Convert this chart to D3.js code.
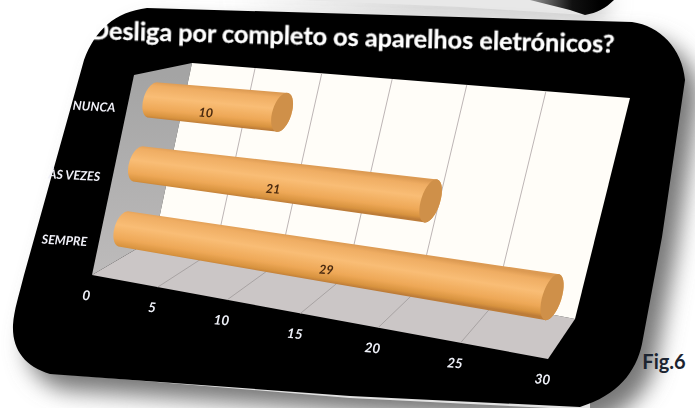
<!DOCTYPE html>
<html><head><meta charset="utf-8">
<script src="https://cdnjs.cloudflare.com/ajax/libs/d3/7.8.5/d3.min.js"></script>
<style>html,body{margin:0;padding:0;background:#fff}svg{display:block}</style>
</head><body><svg id="c" width="695" height="408"></svg>
<script>
const title = "Desliga por completo os aparelhos eletrónicos?";
const categories = ["NUNCA", "ÀS VEZES", "SEMPRE"];
const values = [10, 21, 29];
const xTicks = [0, 5, 10, 15, 20, 25, 30];
const figLabel = "Fig.6";

// Projective map of the unit square onto a quad (u0v0, u1v0, u1v1, u0v1)
function quad(a, b, c, d) {
  const dx1 = b[0]-c[0], dx2 = d[0]-c[0], sx = a[0]-b[0]+c[0]-d[0];
  const dy1 = b[1]-c[1], dy2 = d[1]-c[1], sy = a[1]-b[1]+c[1]-d[1];
  const den = dx1*dy2-dx2*dy1;
  const g = (sx*dy2-dx2*sy)/den, h = (dx1*sy-sx*dy1)/den;
  const A = b[0]-a[0]+g*b[0], B = d[0]-a[0]+h*d[0], D = b[1]-a[1]+g*b[1], E = d[1]-a[1]+h*d[1];
  return (u, v) => { const w = g*u+h*v+1; return [(A*u+B*v+a[0])/w, (D*u+E*v+a[1])/w]; };
}
const x = d3.scaleLinear().domain([0, 30]).range([0, 1]);
const y = d3.scalePoint().domain(categories).range([0, 1]);
const radius = d3.scaleLinear().domain([0, 30]).range([17.5, 23]);
// foreshortening along the value axis of the box faces
const depth = 0.842;
const t = d => { const u = x(d); return u*depth/(u*depth + 1 - u); };
const lerp = (a, b, k) => [a[0]+(b[0]-a[0])*k, a[1]+(b[1]-a[1])*k];

const wTL = [192,63], wTR = [630,98], wBR = [575,319], wBL = [155,238], fFL = [92,275], fFR = [548,359];
const barPlane = quad([153,100],[595,142],[570,300],[124,229]);
const poly = pts => "M" + pts.map(p => p.map(n => n.toFixed(1)).join(",")).join("L") + "Z";

const svg = d3.select("#c");
const defs = svg.append("defs");
const blur = (id, s) => defs.append("filter").attr("id", id)
  .attr("x", "-20%").attr("y", "-20%").attr("width", "140%").attr("height", "140%")
  .append("feGaussianBlur").attr("stdDeviation", s);
blur("shadow", 11); blur("soft", 0.6);

const grad = (id, x1, y1, x2, y2, stops) => {
  const g = defs.append("linearGradient").attr("id", id).attr("gradientUnits", "userSpaceOnUse")
    .attr("x1", x1).attr("y1", y1).attr("x2", x2).attr("y2", y2);
  stops.forEach(s => g.append("stop").attr("offset", s[0]).attr("stop-color", s[1]));
};

const panel = "M147,8 L632,22 C660,26 682,48 685,80 L662,237 L642,344 C636,372 618,395 580,407 L350,396 L50,374 C25,366 12,350 13,325 C14,310 19,295 24,275 L84,60 C95,30 115,12 147,8 Z";

svg.append("rect").attr("width", 695).attr("height", 408).attr("fill", "#fff");

// neighbouring picture sliver at the top
svg.append("path").attr("d", "M230,0 L612,0 L600,18 L420,14 Z").attr("fill", "#b4b4b4").attr("filter", "url(#shadow)");
svg.append("path").attr("d", "M300,0 L540,0 L585,15 L460,7 Z").attr("fill", "#e8e8e8");
grad("slv", 530, 0, 600, 0, [[0, "#999"], [0.6, "#111"], [1, "#000"]]);
svg.append("path").attr("d", "M530,0 L614,0 C606,8 597,13 585,15 L570,10 Z").attr("fill", "url(#slv)");

// shadow, bottom sliver and black panel
svg.append("path").attr("d", panel).attr("fill", "#777").attr("transform", "translate(14,16)").attr("filter", "url(#shadow)");
svg.append("path").attr("d", "M48,373 L350,398 L590,410 L590,400 L350,390 Z").attr("fill", "#e2e2e2");
svg.append("path").attr("d", panel).attr("fill", "#000");

const chart = svg.append("g").attr("filter", "url(#soft)");

// left wall, floor, back wall
grad("leftG", 0, 75, 0, 275, [[0, "#a4a4a4"], [1, "#bdbbbb"]]);
chart.append("path").attr("d", poly([[134,75],wTL,wBL,fFL])).attr("fill", "url(#leftG)");
chart.append("path").attr("d", poly([wBL,wBR,fFR,fFL])).attr("fill", "#cbc6c6");
chart.append("path").attr("d", poly([wTL,wTR,wBR,wBL])).attr("fill", "#fffdf8");

// grid lines from the tick values
const inner = xTicks.slice(1, -1);
chart.selectAll(".wg").data(inner).join("path").attr("class", "wg")
  .attr("d", d => d3.line()([lerp(wTL,wTR,t(d)), lerp(wBL,wBR,t(d))]))
  .attr("stroke", "#bdb5b5").attr("stroke-width", 1).attr("fill", "none");
chart.selectAll(".fg").data(inner).join("path").attr("class", "fg")
  .attr("d", d => d3.line()([lerp(wBL,wBR,t(d)), lerp(fFL,fFR,t(d))]))
  .attr("stroke", "#a8a3a3").attr("stroke-width", 1).attr("fill", "none");

// cylinders
categories.forEach((c, i) => {
  const v = values[i], rowV = y(c);
  const p0 = barPlane(x(0), rowV), p1 = barPlane(x(v), rowV);
  const r0 = radius(0), r1 = radius(v), k = 0.32, capW = 9.5;
  const t0 = [p0[0]+k*r0, p0[1]-r0], b0 = [p0[0]-k*r0, p0[1]+r0];
  const t1 = [p1[0]+k*r1, p1[1]-r1], b1 = [p1[0]-k*r1, p1[1]+r1];
  const ang = Math.atan2(1, -k) * 180 / Math.PI;
  const L0 = Math.hypot(k*r0, r0), L1 = Math.hypot(k*r1, r1);
  const mid = [(p0[0]+p1[0])/2, (p0[1]+p1[1])/2], rm = (r0+r1)/2;
  // shading runs across the axis of the cylinder
  const ax = p1[0]-p0[0], ay = p1[1]-p0[1], al = Math.hypot(ax, ay);
  const nx = -ay/al, ny = ax/al;
  const hh = Math.abs(-k*rm*nx + rm*ny);
  const id = "bar" + i;
  grad(id, mid[0]-nx*hh, mid[1]-ny*hh, mid[0]+nx*hh, mid[1]+ny*hh,
    [[0, "#dc9a52"], [0.12, "#efad63"], [0.42, "#f9bd75"], [0.75, "#eea857"], [0.92, "#d8933f"], [1, "#bd7c38"]]);
  chart.append("path")
    .attr("d", `M${t0}L${t1}A${L1},${capW} ${ang} 0 1 ${b1}L${b0}A${L0},${capW} ${ang} 0 1 ${t0}Z`)
    .attr("fill", `url(#${id})`);
  chart.append("ellipse")
    .attr("transform", `translate(${p1}) rotate(${ang})`)
    .attr("rx", L1).attr("ry", capW).attr("fill", "#cf9049");
  const lx = mid[0] - 12, ly = mid[1] + 11;
  chart.append("text")
    .attr("x", lx).attr("y", ly)
    .attr("text-anchor", "middle").attr("font-family", "Lato").attr("font-style", "italic").attr("font-weight", 700)
    .attr("font-size", 12.5).attr("fill", "#4a2a10")
    .attr("transform", `rotate(4 ${lx} ${ly})`)
    .text(v);
});

const textG = svg.append("g").attr("filter", "url(#soft)");

// value-axis tick labels below the front edge of the floor
const tickAt = d => { const p = lerp(fFL, fFR, t(d)); return [p[0]-6, p[1]+25]; };
textG.selectAll(".tick").data(xTicks).join("text").attr("class", "tick")
  .attr("x", d => tickAt(d)[0]).attr("y", d => tickAt(d)[1])
  .attr("text-anchor", "middle").attr("font-family", "Lato").attr("font-style", "italic").attr("font-weight", 700)
  .attr("font-size", 13.5).attr("fill", "#eef0f8")
  .attr("transform", d => `rotate(5 ${tickAt(d)[0]} ${tickAt(d)[1]})`)
  .text(d => d);

// category labels
const catX = [115, 100, 87], catY = [112, 181, 246];
textG.selectAll(".cat").data(categories).join("text").attr("class", "cat")
  .attr("x", (d, i) => catX[i]).attr("y", (d, i) => catY[i])
  .attr("text-anchor", "end").attr("font-family", "Lato").attr("font-style", "italic").attr("font-weight", 700)
  .attr("font-size", 12.5).attr("fill", "#f0f0f8")
  .attr("transform", (d, i) => `rotate(3 ${catX[i]} ${catY[i]})`)
  .text(d => d);

// title
svg.append("text").attr("x", 352).attr("y", 46)
  .attr("text-anchor", "middle").attr("font-family", "Lato").attr("font-weight", 700)
  .attr("font-size", 25.2).attr("fill", "#fff").attr("stroke", "#fff").attr("stroke-width", 0.3).attr("filter", "url(#soft)")
  .attr("transform", "rotate(1.5 352 46)")
  .text(title);

svg.append("text").attr("x", 664).attr("y", 369)
  .attr("text-anchor", "middle").attr("font-family", "Lato").attr("font-weight", 700)
  .attr("font-size", 20).attr("fill", "#1c2430").text(figLabel);
</script></body></html>
